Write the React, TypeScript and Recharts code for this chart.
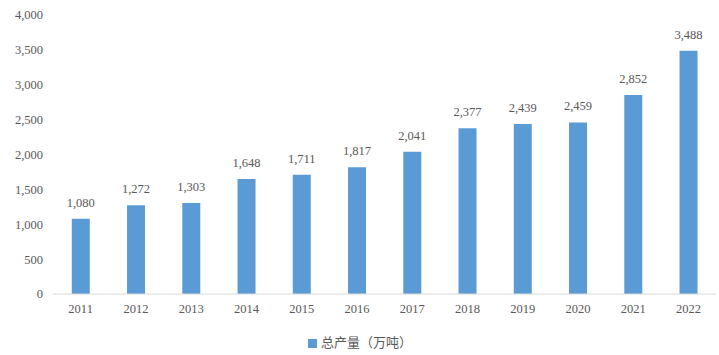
import React from 'react';
import { BarChart, Bar, XAxis, YAxis, Legend, LabelList } from 'recharts';

const years = ['2011', '2012', '2013', '2014', '2015', '2016', '2017', '2018', '2019', '2020', '2021', '2022'];
const output = [1080, 1272, 1303, 1648, 1711, 1817, 2041, 2377, 2439, 2459, 2852, 3488];
const yTicks = [0, 500, 1000, 1500, 2000, 2500, 3000, 3500, 4000];

const data = years.map((year, i) => ({ year, value: output[i] }));

const fmt = (v: number) => v.toLocaleString('en-US');
const serif = '"Liberation Serif", "DejaVu Serif", serif';

export default function App() {
  return (
    <div style={{ position: 'absolute', left: 0, top: 0, background: '#fff' }}>
      <BarChart
        width={719}
        height={355}
        data={data}
        margin={{ top: 15, right: 3, bottom: 2, left: 0 }}
        barCategoryGap="34%"
      >
        <XAxis
          dataKey="year"
          axisLine={{ stroke: '#d9d9d9' }}
          tickLine={false}
          tickMargin={4}
          height={26}
          tick={{ fill: '#595959', fontSize: 12.5, fontFamily: serif }}
        />
        <YAxis
          width={53}
          domain={[0, 4000]}
          ticks={yTicks}
          tickFormatter={fmt}
          axisLine={false}
          tickLine={false}
          tickMargin={4}
          tick={{ fill: '#595959', fontSize: 12.5, fontFamily: serif }}
        />
        <Legend
          verticalAlign="bottom"
          height={33}
          iconType="square"
          iconSize={9}
          wrapperStyle={{ fontFamily: '"Noto Sans CJK SC", sans-serif', fontSize: 13, bottom: -10, left: 7 }}
          formatter={(v) => <span style={{ color: '#595959' }}>{v}</span>}
        />
        <Bar dataKey="value" name="总产量（万吨）" fill="#5B9BD5" isAnimationActive={false}>
          <LabelList
            dataKey="value"
            position="top"
            offset={12}
            formatter={(v: number) => fmt(v)}
            style={{ fill: '#595959', fontSize: 12.5, fontFamily: serif }}
          />
        </Bar>
      </BarChart>
    </div>
  );
}
